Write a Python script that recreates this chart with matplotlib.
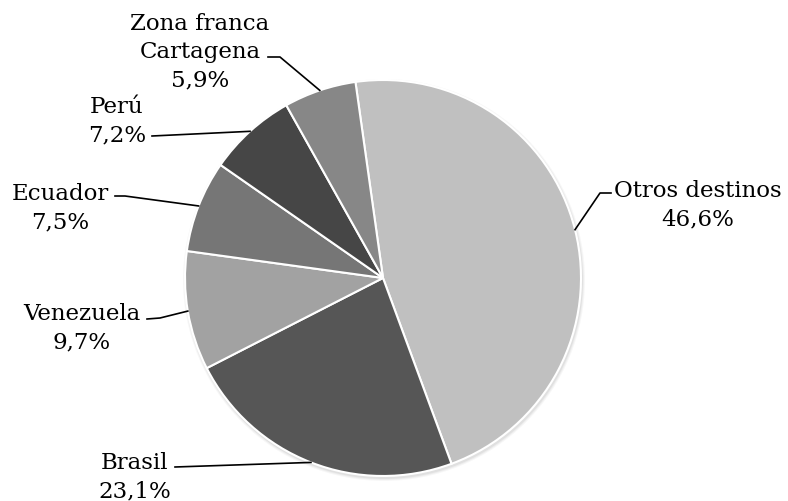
import matplotlib.pyplot as plt
import numpy as np
from matplotlib.patches import Circle

labels = ['Otros destinos', 'Brasil', 'Venezuela', 'Ecuador', 'Perú', 'Zona franca\nCartagena']
values = [46.6, 23.1, 9.7, 7.5, 7.2, 5.9]
colors = ['#c0c0c0', '#565656', '#a2a2a2', '#767676', '#464646', '#878787']

# label placement in pixel coordinates (image y downwards): text centre, leader elbow
text_pos = [(698, 205), (135, 477), (82, 328), (60, 208), (117, 121), (200, 52)]
elbows = [[(611, 193), (600, 193)], [(175, 467)], [(147, 319), (160, 318)],
          [(115, 196), (125, 196)], [(152, 136)], [(268, 57), (280, 57)]]

W, H = 788, 501
cx, cy, r = 383, H - 278, 198

fig = plt.figure(figsize=(7.88, 5.01), dpi=100)
ax = fig.add_axes([0, 0, 1, 1])

# soft shadow under the pie
for i, a in enumerate([0.05, 0.04, 0.03]):
    ax.add_patch(Circle((cx + 1, cy - 2), r + 1 + i, color='black', alpha=a, lw=0, zorder=0))

wedges, _ = ax.pie(values, colors=colors, startangle=98, counterclock=False,
                   radius=r, center=(cx, cy),
                   wedgeprops=dict(edgecolor='white', linewidth=1.5))

for w, lab, v, (tx, ty), elb in zip(wedges, labels, values, text_pos, elbows):
    mid = np.deg2rad((w.theta1 + w.theta2) / 2)
    ex, ey = cx + r * np.cos(mid), cy + r * np.sin(mid)
    pts = [(x, H - y) for x, y in elb] + [(ex, ey)]
    ax.plot([p[0] for p in pts], [p[1] for p in pts], color='black', lw=1.2, zorder=5)
    txt = lab + '\n' + f'{v:.1f}'.replace('.', ',') + '%'
    ax.text(tx, H - ty, txt, ha='center', va='center', fontsize=16.5,
            family='DejaVu Serif', linespacing=1.35, color='black')

ax.set_xlim(0, W)
ax.set_ylim(0, H)
ax.set_aspect('equal')
ax.axis('off')

plt.savefig('out.png', dpi=100)
